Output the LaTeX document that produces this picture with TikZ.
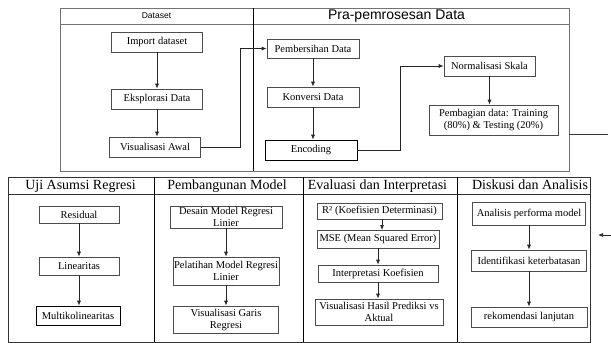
\documentclass[tikz,border=0pt]{standalone}
\usepackage{fontspec}
\setmainfont{Liberation Serif}
\setsansfont{Liberation Sans}
\usetikzlibrary{arrows.meta, positioning}

\begin{document}
\begin{tikzpicture}[x=1pt, y=-1pt,
    stepbox/.style={rectangle, draw=black!70, line width=0.7pt, inner sep=1pt, align=center, font=\fontsize{10.5}{12}\selectfont},
    flow/.style={-{Latex[length=5pt,width=4pt]}, line width=0.7pt, black!85},
    panel/.style={draw=black!80, line width=0.8pt},
    headtext/.style={font=\fontsize{14}{16}\selectfont}]
    \useasboundingbox (0,0) rectangle (611,343);

    % Top panels
    \draw[panel, draw=black!55] (60,8) rectangle (569,171);
    \draw[panel, draw=black!55] (60,24) -- (569,24);
    \draw[panel, draw=black] (253,8) -- (253,171);
    \node (hdata) at (156.5,16) {\sffamily\fontsize{8.5}{10}\selectfont Dataset};
    \node (hprep) at (396.5,16) {\sffamily\fontsize{14}{16}\selectfont Pra-pemrosesan Data};

    % Bottom panels
    \draw[panel] (8,177) rectangle (590,342);
    \draw[panel] (8,194) -- (590,194);
    \draw[panel, draw=black] (154,177) -- (154,342);
    \draw[panel, draw=black] (303,177) -- (303,342);
    \draw[panel, draw=black] (457,177) -- (457,342);
    \node[headtext] (huji) at (80.5,186) {Uji Asumsi Regresi};
    \node[headtext] (hbang) at (227,186) {Pembangunan Model};
    \node[headtext] (heval) at (377.5,186) {Evaluasi dan Interpretasi};
    \node[headtext] (hdisk) at (530,185) {Diskusi dan Analisis};

    % Dataset
    \node[stepbox, minimum width=91pt, minimum height=20pt] (imp) at (157,42) {Import dataset};
    \node[stepbox, minimum width=91pt, minimum height=20pt] (eks) at (157,99) {Eksplorasi Data};
    \node[stepbox, minimum width=91pt, minimum height=20pt] (vis) at (155,147) {Visualisasi Awal};
    \draw[flow] (imp) -- (imp |- eks.north);
    \draw[flow] (eks) -- (eks |- vis.north);

    % Pra-pemrosesan
    \node[stepbox, minimum width=92pt, minimum height=19pt] (pem) at (313,48.5) {Pembersihan Data};
    \node[stepbox, minimum width=92pt, minimum height=20pt] (kon) at (313,97) {Konversi Data};
    \node[stepbox, draw=black, minimum width=92pt, minimum height=20pt] (enc) at (311,150) {Encoding};
    \node[stepbox, minimum width=91pt, minimum height=20pt] (nor) at (489.5,66) {Normalisasi Skala};
    \node[stepbox, minimum width=129pt, minimum height=30pt] (bag) at (493.5,120) {Pembagian data: Training\\(80\%) \& Testing (20\%)};
    \draw[flow] (pem) -- (pem |- kon.north);
    \draw[flow] (kon) -- (kon |- enc.north);
    \draw[flow] (nor) -- (nor |- bag.north);
    \draw[flow] (vis.east) -- ++(39,0) |- (pem.west);
    \draw[flow] (enc.east) -- ++(43,0) |- (nor.west);

    % Connector pieces at the right edge
    \coordinate (exitA) at (569,134);
    \coordinate (exitB) at (608,134);
    \coordinate (entA) at (611,235);
    \coordinate (entB) at (598,235);
    \draw[line width=0.7pt, black!80] (exitA) -- (exitB);
    \draw[flow] (entA) -- (entB);

    % Uji Asumsi Regresi
    \node[stepbox, minimum width=80pt, minimum height=17pt] (res) at (79,214.5) {Residual};
    \node[stepbox, minimum width=80pt, minimum height=18pt] (lin) at (79,266) {Linearitas};
    \node[stepbox, draw=black, minimum width=84pt, minimum height=19pt] (mul) at (78,315.5) {Multikolinearitas};
    \draw[flow] (res) -- (res |- lin.north);
    \draw[flow] (lin) -- (lin |- mul.north);

    % Pembangunan Model
    \node[stepbox, minimum width=112pt, minimum height=22pt] (des) at (226,217) {Desain Model Regresi\\Linier};
    \node[stepbox, minimum width=105pt, minimum height=28pt] (pel) at (226,271) {Pelatihan Model Regresi\\Linier};
    \node[stepbox, minimum width=105pt, minimum height=27pt] (vgr) at (226,319.5) {Visualisasi Garis\\Regresi};
    \draw[flow] (des) -- (des |- pel.north);
    \draw[flow] (pel) -- (pel |- vgr.north);

    % Evaluasi dan Interpretasi
    \node[stepbox, minimum width=125pt, minimum height=16pt] (rsq) at (379.5,211) {R² (Koefisien Determinasi)};
    \node[stepbox, minimum width=122pt, minimum height=18pt] (mse) at (378,239) {MSE (Mean Squared Error)};
    \node[stepbox, minimum width=120pt, minimum height=17pt] (int) at (378,273.5) {Interpretasi Koefisien};
    \node[stepbox, minimum width=128pt, minimum height=26pt] (vhp) at (379,312) {Visualisasi Hasil Prediksi vs\\Aktual};
    \draw[flow] (382,219) -- (382,230);
    \draw[flow] (mse) -- (mse |- int.north);
    \draw[flow] (int) -- (int |- vhp.north);

    % Diskusi dan Analisis
    \node[stepbox, minimum width=113pt, minimum height=23pt] (ana) at (529,213.5) {Analisis performa model};
    \node[stepbox, minimum width=115pt, minimum height=21pt] (ide) at (529,260.5) {Identifikasi keterbatasan};
    \node[stepbox, minimum width=116pt, minimum height=20pt] (rek) at (529,317) {rekomendasi lanjutan};
    \draw[flow] (ana) -- (ana |- ide.north);
    \draw[flow] (ide) -- (ide |- rek.north);
\end{tikzpicture}
\end{document}
